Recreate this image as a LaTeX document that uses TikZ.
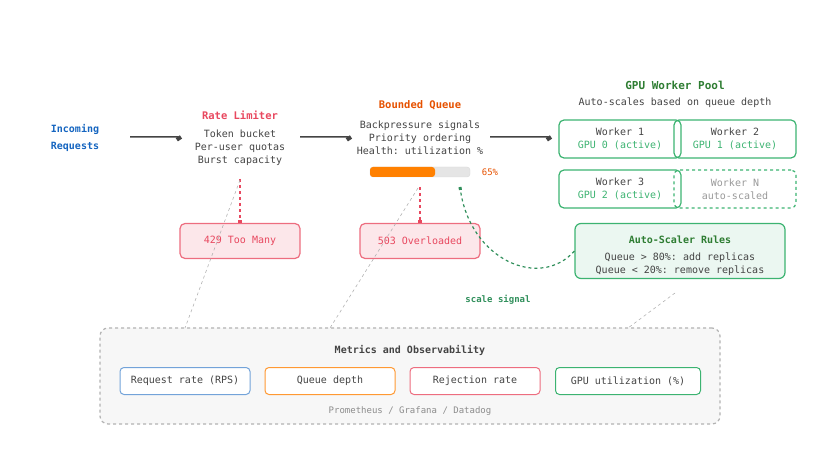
\documentclass[tikz,border=0pt]{standalone}
\usepackage{fontspec}
\setmonofont{DejaVu Sans Mono}
\usetikzlibrary{arrows.meta}
\definecolor{dk}{HTML}{444444}
\definecolor{gr}{HTML}{3CB371}
\definecolor{dgr}{HTML}{2E7D32}
\definecolor{rd}{HTML}{E8485F}
\definecolor{org}{HTML}{E65100}
\definecolor{bl}{HTML}{1565C0}
\tikzset{x=1pt,y=-1pt,
 every node/.style={font=\ttfamily\fontsize{10}{13}\selectfont,text=dk,align=center,inner sep=0pt},
 flow/.style={draw=dk,line width=1.5pt,-{Square[length=4pt,width=5pt]}},
 wbox/.style={draw=gr,line width=1.2pt,rounded corners=5pt,minimum width=122pt,minimum height=38pt},
 errbox/.style={draw=rd!80,fill=rd!13,line width=1.2pt,rounded corners=5pt,minimum width=120pt,minimum height=35pt,text=rd},
 mbox/.style={line width=1pt,rounded corners=4pt,minimum height=27pt},
 guide/.style={draw=black!30,dashed,line width=0.6pt}}
\begin{document}
\begin{tikzpicture}
\useasboundingbox (0,0) rectangle (820,449);
\node[text=bl,font=\ttfamily\bfseries\fontsize{10}{17}\selectfont] (in) at (75,138) {Incoming\\Requests};
\node[text=rd,font=\ttfamily\bfseries\fontsize{10.5}{13}\selectfont] (rlt) at (240,115) {Rate Limiter};
\node (rl) at (240,148) {Token bucket\\Per-user quotas\\Burst capacity};
\node[text=org,font=\ttfamily\bfseries\fontsize{10.5}{13}\selectfont] (bqt) at (420,105) {Bounded Queue};
\node (bq) at (420,138) {Backpressure signals\\Priority ordering\\Health: utilization \%};
\draw[black!15,fill=black!10,rounded corners=3pt] (370,167) rectangle (470,177);
\fill[orange,rounded corners=3pt] (370,167) rectangle (435,177);
\node[text=org,font=\ttfamily\fontsize{9}{11}\selectfont] (pct) at (490,172) {65\%};
\coordinate (barlo) at (460,187);
\node[text=dgr,font=\ttfamily\bfseries\fontsize{11}{13}\selectfont] (gpt) at (675,85) {GPU Worker Pool};
\node (gps) at (675,103) {Auto-scales based on queue depth};
\node[wbox] (w1) at (620,139) {Worker 1\\\textcolor{gr}{GPU 0 (active)}};
\node[wbox] (w2) at (735,139) {Worker 2\\\textcolor{gr}{GPU 1 (active)}};
\node[wbox] (w3) at (620,189) {Worker 3\\\textcolor{gr}{GPU 2 (active)}};
\node[wbox,dashed,text=black!40] (wn) at (735,189) {Worker N\\auto-scaled};
\node[draw=gr,fill=gr!10,line width=1.2pt,rounded corners=6pt,minimum width=210pt,minimum height=55pt] (as) at (680,251) {};
\node[text=dgr,font=\ttfamily\bfseries\fontsize{10}{13}\selectfont] at (680,240) {Auto-Scaler Rules};
\node at (680,264) {Queue > 80\%: add replicas\\Queue < 20\%: remove replicas};
\node[errbox] (e1) at (240,241) {429 Too Many};
\node[errbox] (e2) at (420,241) {503 Overloaded};
\draw[flow] (130,137) -- (178,137) -- (180,140);
\draw[flow] (300,137) -- (348,137) -- (350,140);
\draw[flow] (490,137) -- (548,137) -- (550,140);
\draw[rd,dashed,line width=1.5pt,-{Square[length=3pt,width=4pt]}] (240,179) -- (e1.north);
\draw[rd,dashed,line width=1.5pt,-{Square[length=3pt,width=4pt]}] (420,187) -- (e2.north);
\draw[gr!80!black,dashed,line width=1.2pt,-{Square[length=3pt,width=3pt]}] (as.west) .. controls (540,290) and (470,260) .. (barlo);
\node[text=gr!80!black,font=\ttfamily\bfseries\fontsize{9}{11}\selectfont] (ss) at (498,300) {scale signal};
\node[draw=black!30,dashed,fill=black!3,line width=1.2pt,rounded corners=8pt,minimum width=620pt,minimum height=96pt] (met) at (410,376) {};
\node[font=\ttfamily\bfseries\fontsize{10}{13}\selectfont] (mt) at (410,350) {Metrics and Observability};
\node[mbox,draw=bl!60,fill=white,minimum width=130pt] (m1) at (185,381) {Request rate (RPS)};
\node[mbox,draw=orange!80,fill=white,minimum width=130pt] (m2) at (330,381) {Queue depth};
\node[mbox,draw=rd!80,fill=white,minimum width=130pt] (m3) at (475,381) {Rejection rate};
\node[mbox,draw=gr,fill=white,minimum width=145pt] (m4) at (628,381) {GPU utilization (\%)};
\node[text=black!45,font=\ttfamily\fontsize{9}{11}\selectfont] (mf) at (410,411) {Prometheus / Grafana / Datadog};
\draw[guide] (240,180) -- (185,328);
\draw[guide] (418,188) -- (330,328);
\draw[guide] (675,293) -- (628,328);
\end{tikzpicture}
\end{document}
